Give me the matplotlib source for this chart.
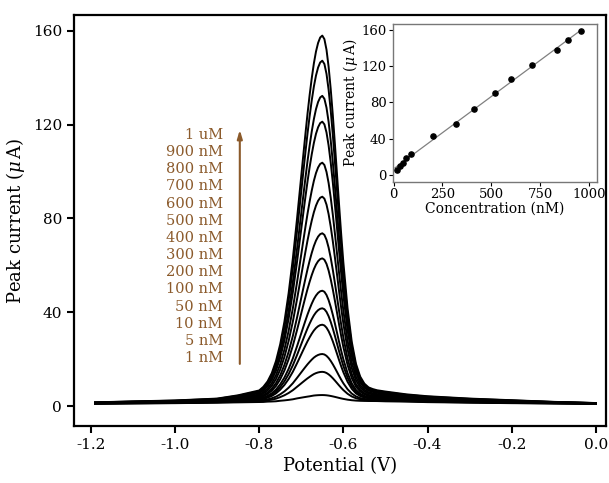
import numpy as np
import matplotlib.pyplot as plt

plt.rcParams['font.family'] = ['DejaVu Serif']
plt.rcParams['mathtext.fontset'] = 'dejavuserif'

# potential grid (V) where the curves were read
potential = [-1.19, -1.10, -1.00, -0.95, -0.90, -0.85,
             -0.80, -0.79, -0.78, -0.77, -0.76, -0.75, -0.74, -0.73, -0.72, -0.71,
             -0.70, -0.695, -0.69, -0.685, -0.68, -0.675, -0.67, -0.665, -0.66, -0.655,
             -0.65, -0.645, -0.64, -0.635, -0.63, -0.625, -0.62, -0.615, -0.61, -0.605,
             -0.60, -0.59, -0.58, -0.57, -0.56, -0.55, -0.54, -0.53, -0.52,
             -0.50, -0.45, -0.40, -0.30, -0.20, -0.10, 0.00]

# normalised peak shape (1 at the maximum)
peak_shape = [0, 0, 0, 0, 0, 0.004,
              0.011, 0.020, 0.034, 0.056, 0.089, 0.135, 0.198, 0.278, 0.375, 0.487,
              0.607, 0.667, 0.726, 0.783, 0.835, 0.882, 0.923, 0.956, 0.980, 0.995,
              1.000, 0.990, 0.960, 0.912, 0.849, 0.775, 0.693, 0.607, 0.520, 0.437,
              0.360, 0.230, 0.135, 0.073, 0.037, 0.017, 0.007, 0.003, 0.001,
              0, 0, 0, 0, 0, 0, 0]

# background current of the highest and the lowest scan
base_high = [1.6, 2.0, 2.4, 2.8, 3.2, 4.0,
             5.0, 5.2, 5.4, 5.6, 5.8, 6.0, 6.1, 6.2, 6.3, 6.4,
             6.5, 6.55, 6.6, 6.65, 6.7, 6.75, 6.8, 6.85, 6.9, 6.95,
             7.0, 7.0, 7.0, 7.0, 7.0, 7.0, 7.0, 7.0, 7.0, 7.0,
             7.0, 7.0, 7.0, 7.0, 7.0, 7.0, 6.9, 6.8, 6.6,
             6.2, 5.0, 4.2, 3.2, 2.5, 1.8, 1.3]
base_low = [1.0, 1.1, 1.2, 1.3, 1.4, 1.5,
            1.6, 1.6, 1.7, 1.7, 1.7, 1.8, 1.8, 1.8, 1.8, 1.9,
            1.9, 1.9, 1.9, 1.9, 1.9, 1.95, 2.0, 2.0, 2.0, 2.0,
            2.0, 2.0, 2.0, 2.0, 2.0, 2.0, 2.0, 2.0, 2.0, 2.0,
            2.0, 2.0, 2.0, 2.0, 2.0, 2.0, 2.0, 2.0, 2.0,
            1.9, 1.8, 1.6, 1.4, 1.2, 1.1, 1.0]

# peak current of every scan (uA), lowest to highest concentration
peak_current = [4.7, 14.6, 22.2, 34.7, 41.7, 49.2, 63.0,
                73.7, 89.3, 103.8, 121.3, 132.3, 147.3, 158.0]
conc_labels = ['1 nM', '5 nM', '10 nM', '50 nM', '100 nM', '200 nM', '300 nM',
               '400 nM', '500 nM', '600 nM', '700 nM', '800 nM', '900 nM', '1 uM']

# inset calibration points
cal_conc = [17, 34, 48, 66, 89, 203, 317, 412, 521, 603, 707, 836, 893, 957]
cal_current = [5.2, 10.0, 13.6, 19.2, 22.9, 42.8, 56.8, 72.6, 91.0, 105.4,
               121.0, 137.5, 148.6, 158.5]

brown = '#8b5a2b'

x = np.array(potential)
shape = np.array(peak_shape)
bh = np.array(base_high)
bl = np.array(base_low)
ipk = potential.index(-0.65)

fig = plt.figure(figsize=(6.09, 4.83), dpi=100)
ax = fig.add_axes([0.1215, 0.118, 0.8735, 0.851])

for p in peak_current:
    w = p / max(peak_current)
    base = bl + (bh - bl) * w
    amp = p - base[ipk]
    ax.plot(x, base + amp * shape, color='black', lw=1.4)

ax.set_xlim(-1.24, 0.024)
ax.set_ylim(-8.5, 166.8)
ax.set_xticks([-1.2, -1.0, -0.8, -0.6, -0.4, -0.2, 0.0])
ax.set_xticklabels(['-1.2', '-1.0', '-0.8', '-0.6', '-0.4', '-0.2', '0.0'])
ax.set_yticks([0, 40, 80, 120, 160])
ax.tick_params(direction='out', length=5, width=1.5, labelsize=11)
for s in ax.spines.values():
    s.set_linewidth(1.6)
ax.set_xlabel('Potential (V)', fontsize=13)
ax.set_ylabel(r'Peak current ($\mu\,$A)', fontsize=13)

# concentration labels and arrow
y0, y1 = 20.5, 115.6
for i, lab in enumerate(conc_labels):
    ax.text(-0.886, y0 + (y1 - y0) * i / (len(conc_labels) - 1), lab,
            color=brown, fontsize=10.5, ha='right', va='center')
ax.annotate('', xy=(-0.846, 119), xytext=(-0.846, 16.8),
            arrowprops=dict(arrowstyle='-|>,head_length=0.5,head_width=0.15',
                            color=brown, lw=1.5))

# inset
ins = fig.add_axes([0.645, 0.623, 0.335, 0.327])
coef = np.polyfit(cal_conc, cal_current, 1)
fx = np.array([min(cal_conc) - 10, max(cal_conc)])
ins.plot(fx, np.polyval(coef, fx), color='gray', lw=0.9)
ins.scatter(cal_conc, cal_current, s=14, color='black', zorder=3)
ins.set_xlim(-4, 1040)
ins.set_ylim(-7.7, 166.3)
ins.set_xticks([0, 250, 500, 750, 1000])
ins.set_yticks([0, 40, 80, 120, 160])
ins.tick_params(direction='out', length=3, width=0.8, labelsize=9.5, pad=1.5)
for s in ins.spines.values():
    s.set_color('#777777')
    s.set_linewidth(1.0)
ins.set_xlabel('Concentration (nM)', fontsize=10, labelpad=0)
ins.set_ylabel(r'Peak current ($\mu\,$A)', fontsize=10, labelpad=1)

fig.savefig('out.png', dpi=100)
